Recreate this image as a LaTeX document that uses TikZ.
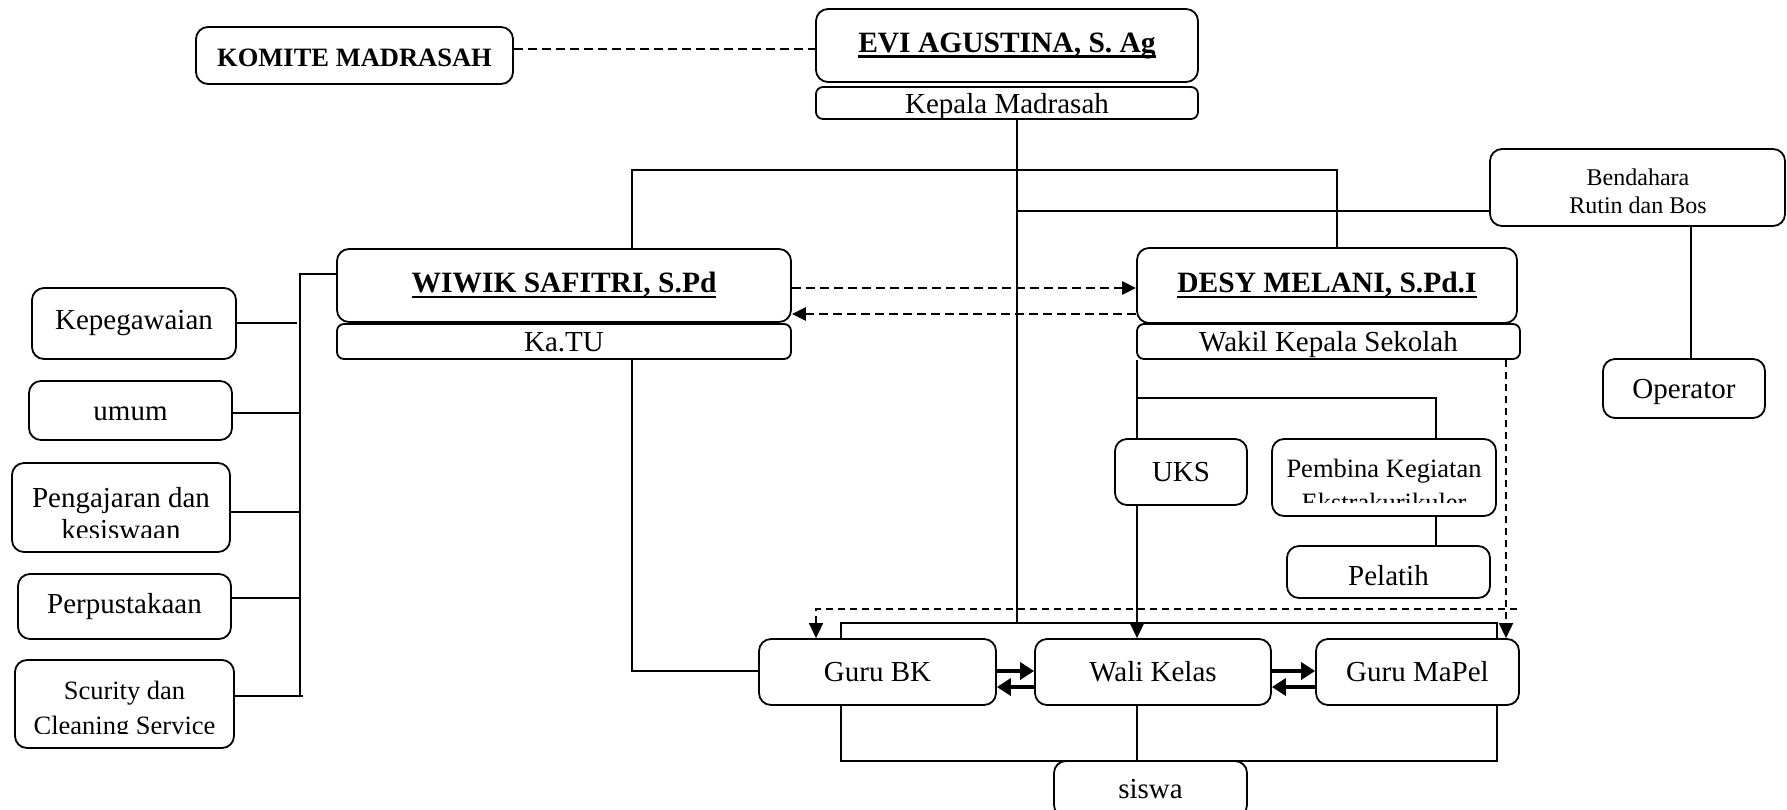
\documentclass[tikz,border=0pt]{standalone}
\usepackage{fontspec}
\setmainfont{Liberation Serif}
\usetikzlibrary{arrows.meta}
\newcommand\frg{\fontsize{29}{34}\selectfont}
\newcommand\fbd{\bfseries\fontsize{29.5}{34}\selectfont}
\newcommand\fkm{\bfseries\fontsize{26.5}{32}\selectfont}
\newcommand\fsm{\fontsize{26.5}{35}\selectfont}
\newcommand\fbn{\fontsize{24}{28}\selectfont}
\newcommand\ulin[1]{\setbox0=\hbox{#1}\rlap{\rule[-5.5pt]{\wd0}{2.2pt}}\box0}
\begin{document}
\begin{tikzpicture}[x=1pt,y=-1pt,
  box/.style={draw,line width=1.8pt,rounded corners=12pt,inner sep=0pt,align=center,font=\frg},
  bar/.style={box,rounded corners=7pt,text depth=0pt},
  conn/.style={line width=1.5pt},
  dasharr/.style={line width=2.6pt,dash pattern=on 9pt off 5pt,-{Triangle[length=14pt,width=13pt]}},
  dashline/.style={line width=2.2pt,dash pattern=on 9pt off 5pt},
  dashthin/.style={line width=1.8pt,dash pattern=on 7pt off 5pt},
  tip/.style={-{Triangle[length=15pt,width=14pt]}},
  thickarr/.style={line width=3.6pt,-{Triangle[length=14pt,width=17pt]}},
  txt/.style={anchor=base,inner sep=0pt}
]
\clip (0,0) rectangle (1787,809);
\fill[white] (0,0) rectangle (1787,809);

% ---------- nodes ----------
\node[box,minimum width=317,minimum height=57,font=\fkm,text height=22pt] (komite) at (354.5,55.5) {KOMITE MADRASAH};
\node[box,minimum width=382,minimum height=73,font=\fbd] (evi) at (1007,45.5) {\ulin{EVI AGUSTINA, S. Ag}};
\node[bar,minimum width=382,minimum height=32] (kepala) at (1007,103) {Kepala Madrasah};
\node[box,minimum width=295,minimum height=77] (bendahara) at (1637.5,187.5) {};
\node[box,minimum width=454,minimum height=73,font=\fbd] (wiwik) at (564,285.5) {\ulin{WIWIK SAFITRI, S.Pd}};
\node[bar,minimum width=454,minimum height=35] (katu) at (564,341.5) {Ka.TU};
\node[box,minimum width=380,minimum height=75,font=\fbd] (desy) at (1327,285.5) {\ulin{DESY MELANI, S.Pd.I}};
\node[bar,minimum width=383,minimum height=35] (wakil) at (1328.5,341.5) {Wakil Kepala Sekolah};
\node[box,minimum width=162,minimum height=59,text depth=0pt] (operator) at (1684,388.5) {Operator};

\node[box,minimum width=204,minimum height=71] (kepeg) at (134,323.5) {Kepegawaian};
\node[box,minimum width=203,minimum height=59,text height=20pt] (umum) at (130.5,410.5) {umum};
\node[box,minimum width=218,minimum height=89] (pengaj) at (121,507.5) {};
\node[box,minimum width=213,minimum height=65] (perpus) at (124.5,606.5) {Perpustakaan};
\node[box,minimum width=219,minimum height=88] (scurity) at (124.5,704) {};

\node[box,minimum width=132,minimum height=66] (uks) at (1181,472) {UKS};
\node[box,minimum width=224,minimum height=77] (pembina) at (1384,477.5) {};
\node[box,minimum width=203,minimum height=52,text height=27pt] (pelatih) at (1388.5,572) {Pelatih};

\node[box,minimum width=237,minimum height=66] (gurubk) at (877.5,672) {Guru BK};
\node[box,minimum width=236,minimum height=66] (wali) at (1153,672) {Wali Kelas};
\node[box,minimum width=203,minimum height=66] (mapel) at (1417.5,672) {Guru MaPel};
\node[box,minimum width=193,minimum height=56] (siswa) at (1150.5,789) {siswa};

% two-line texts
\node[txt,font=\fbn] (bend1) at (1638,185) {Bendahara};
\node[txt,font=\fbn] (bend2) at (1638,213) {Rutin dan Bos};
\begin{scope}
  \clip (12,463) rectangle (230,537);
  \node[txt,font=\frg] (pengaj1) at (121,507) {Pengajaran dan};
  \node[txt,font=\frg] (pengaj2) at (121,539) {kesiswaan};
\end{scope}
\begin{scope}
  \clip (15,660) rectangle (234,733);
  \node[txt,font=\fsm] (scurity1) at (124.5,699) {Scurity dan};
  \node[txt,font=\fsm] (scurity2) at (124.5,734.5) {Cleaning Service};
\end{scope}
\begin{scope}
  \clip (1272,439) rectangle (1496,502);
  \node[txt,font=\fsm] (pembina1) at (1384,477) {Pembina Kegiatan};
  \node[txt,font=\fsm] (pembina2) at (1384,511.5) {Ekstrakurikuler};
\end{scope}

% ---------- helper coordinates ----------
\coordinate (y49) at (0,49);
\coordinate (jA) at (632,170);
\coordinate (jB) at (1337,170);
\coordinate (jC) at (1017,211);
\coordinate (jD) at (1691,0);
\coordinate (m1) at (1017,623);
\coordinate (y288) at (0,288);
\coordinate (y314) at (0,314);
\coordinate (lb) at (300,274);
\coordinate (lbot) at (300,696);
\coordinate (l1) at (297,323);
\coordinate (l2) at (300,413);
\coordinate (l3) at (300,512);
\coordinate (l4) at (300,598);
\coordinate (l5) at (303,696);
\coordinate (jE) at (632,671);
\coordinate (jF) at (1137,398);
\coordinate (jG) at (1436,398);
\coordinate (jH) at (1506,609);
\coordinate (jI) at (1517,609);
\coordinate (jJ) at (816,609);
\coordinate (b1) at (841,623);
\coordinate (b2) at (1497,623);
\coordinate (c1) at (841,761);
\coordinate (c2) at (1497,761);
\coordinate (c3) at (1137,761);
\coordinate (y671) at (0,671);
\coordinate (y687) at (0,687);

% ---------- connectors ----------
\draw[dashline] (komite.east |- y49) -- (evi.west |- y49);
\draw[conn] (kepala.south -| m1) -- (m1);
\draw[conn] (wiwik.north -| jA) -- (jA) -- (jB) -- (desy.north -| jB);
\draw[conn] (jC) -- (bendahara.west |- jC);
\draw[conn] (bendahara.south -| jD) -- (operator.north -| jD);

\draw[dasharr] (wiwik.east |- y288) -- (desy.west |- y288);
\draw[dasharr] (desy.west |- y314) -- (wiwik.east |- y314);

\draw[conn] (wiwik.west |- lb) -- (lb) -- (lbot);
\draw[conn] (kepeg.east |- l1) -- (l1);
\draw[conn] (umum.east |- l2) -- (l2);
\draw[conn] (pengaj.east |- l3) -- (l3);
\draw[conn] (perpus.east |- l4) -- (l4);
\draw[conn] (scurity.east |- l5) -- (l5);

\draw[conn] (katu.south -| jE) -- (jE) -- (gurubk.west |- jE);

\draw[conn] (wakil.south -| jF) -- (uks.north -| jF);
\draw[conn] (jF) -- (jG) -- (pembina.north -| jG);
\draw[conn] (pembina.south -| jG) -- (pelatih.north -| jG);
\draw[conn,tip] (uks.south -| jF) -- (wali.north -| jF);

\draw[dashthin,tip] (wakil.south -| jH) -- (mapel.north -| jH);
\draw[dashthin,tip] (jI) -- (jJ) -- (gurubk.north -| jJ);

\draw[conn] (gurubk.north -| b1) -- (b1) -- (b2) -- (mapel.north -| b2);

\draw[thickarr] (gurubk.east |- y671) -- (wali.west |- y671);
\draw[thickarr] (wali.west |- y687) -- (gurubk.east |- y687);
\draw[thickarr] (wali.east |- y671) -- (mapel.west |- y671);
\draw[thickarr] (mapel.west |- y687) -- (wali.east |- y687);

\draw[conn] (gurubk.south -| c1) -- (c1) -- (c2) -- (mapel.south -| c2);
\draw[conn] (wali.south -| c3) -- (siswa.north -| c3);
\end{tikzpicture}
\end{document}
